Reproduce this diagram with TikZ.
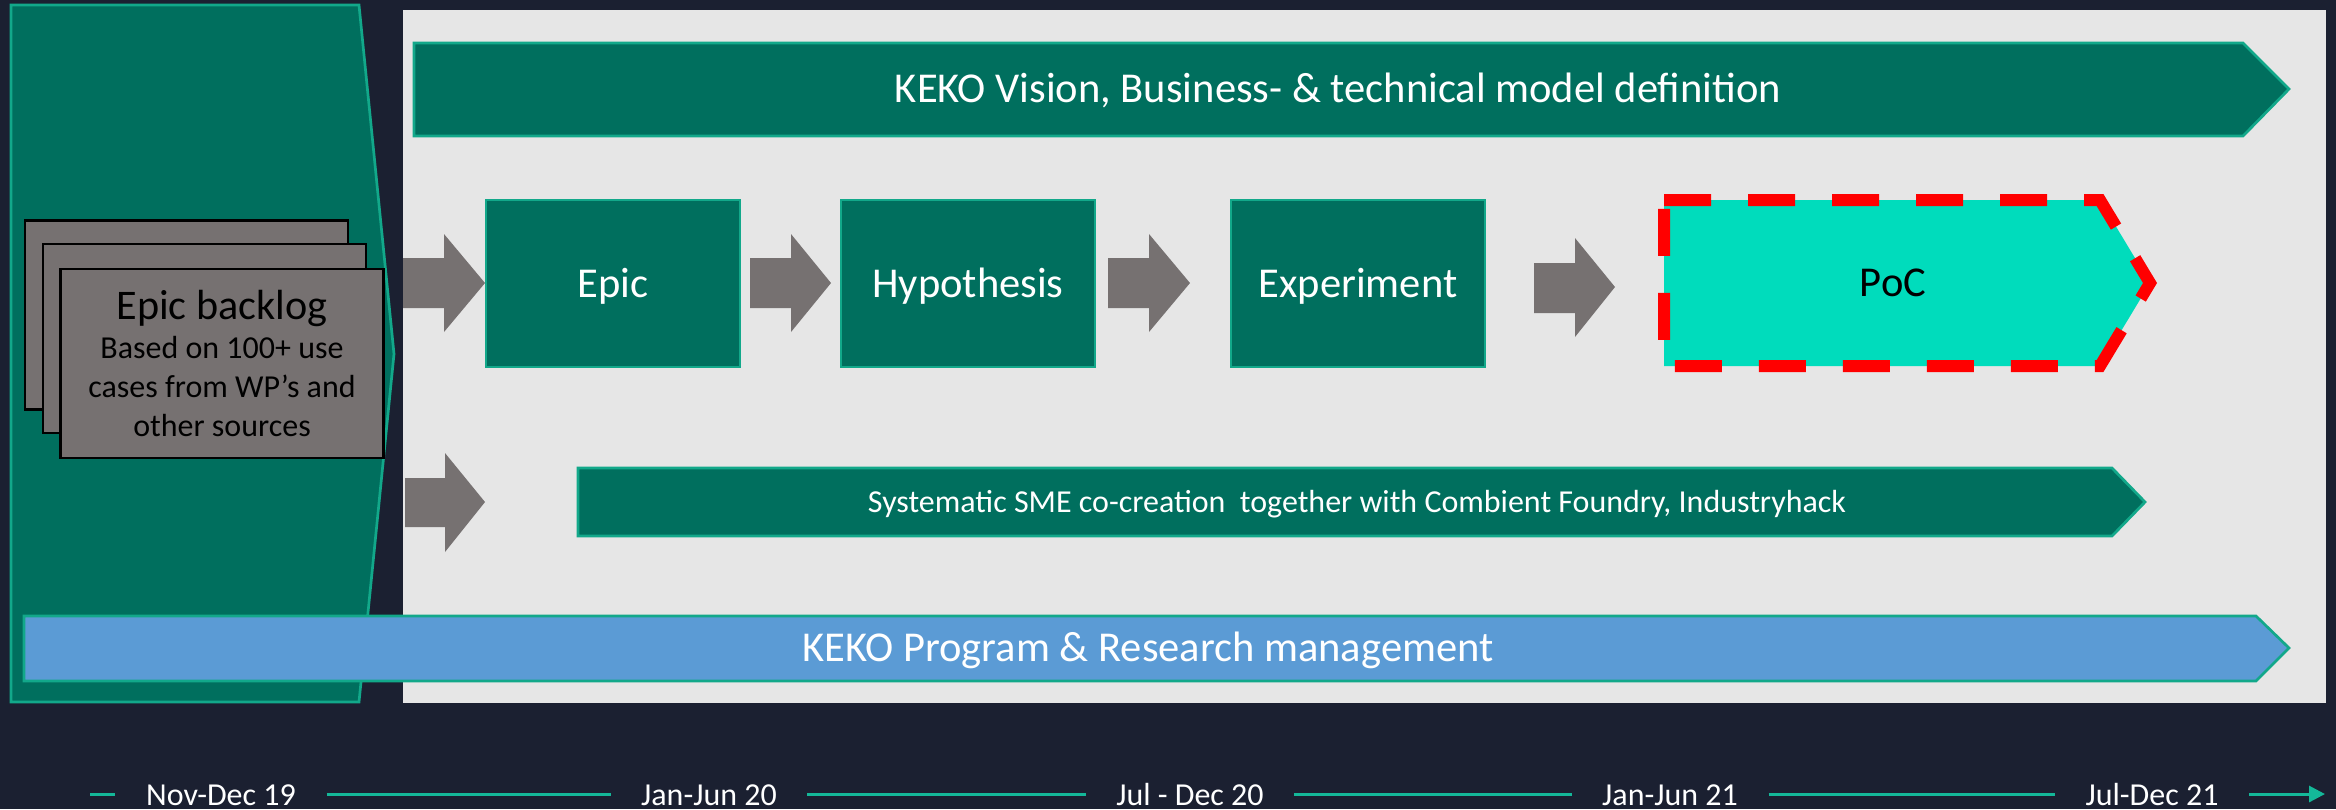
\documentclass[tikz,border=0pt]{standalone}
\usepackage{fontspec}
\setmainfont{Carlito}
\usetikzlibrary{arrows.meta}

\definecolor{navy}{HTML}{1B2031}
\definecolor{kekogreen}{HTML}{006F5E}
\definecolor{kekoline}{HTML}{12A88A}
\definecolor{panelgray}{HTML}{E6E6E6}
\definecolor{arrowgray}{HTML}{767171}
\definecolor{pocfill}{HTML}{00DCBC}
\definecolor{kekoblue}{HTML}{5B9BD5}
\definecolor{timeteal}{HTML}{14B899}

\tikzset{
  greenshape/.style={fill=kekogreen, draw=kekoline, line width=0.27mm},
  bluebar/.style={fill=kekoblue, draw=kekoline, line width=0.27mm},
  pocshape/.style={fill=pocfill, draw=red, line width=1.2mm, dash pattern=on 4.7mm off 3.7mm},
  fatarrow/.style={fill=arrowgray},
  barlabel/.style={text=white, font=\fontsize{12.1}{14}\selectfont, text height=9.95pt, text depth=2.15pt},
  stepbox/.style={greenshape, barlabel, minimum width=25.4mm, minimum height=16.7mm},
  smelabel/.style={text=white, font=\fontsize{9.1}{11}\selectfont, text height=7.4pt, text depth=1.7pt},
  cardbox/.style={fill=arrowgray, draw=black, line width=0.25mm, minimum width=32.3mm, minimum height=18.9mm},
  datelabel/.style={text=white, font=\fontsize{9.1}{10}\selectfont, inner xsep=3mm, text height=2.2mm, text depth=0mm},
  timelink/.style={draw=timeteal, line width=0.3mm},
}

\begin{document}
\begin{tikzpicture}[x=0.1mm, y=-0.1mm]
            \useasboundingbox (0,0) rectangle (2336,809);
            % Drawing background
            \fill [navy] (0,0) rectangle (2336,809);%

            % Drawing chevron backlog
            \draw [greenshape] (11,5) -- (359,5) -- (394,354) -- (359,702) -- (11,702) -- cycle;%

            % Drawing panel
            \fill [panelgray] (403,10) rectangle (2326,703);%

            % Drawing bar vision
            \draw [greenshape] (414,43) -- (2243,43) -- (2289,89) -- (2243,136) -- (414,136) -- cycle;%
            \node [barlabel] (vision) at (1338,89) {KEKO Vision, Business- \& technical model definition};%

            % Drawing cards backlog
            \node [cardbox] (card1) at (186.5,315) {};%
            \node [cardbox] (card2) at (204.5,338.5) {};%
            \node [cardbox, align=center, font=\fontsize{9.1}{11.1}\selectfont] (backlog) at (222,363.5)
              {{\fontsize{12}{11.1}\selectfont Epic backlog}\\Based on 100+ use\\cases from WP’s and\\other sources};%

            % Drawing arrow into epic
            \fill [fatarrow] (403,258) -- (444,258) -- (444,234) -- (485,283) -- (444,332) -- (444,308) -- (403,308) -- cycle;%

            % Drawing box epic
            \node [stepbox] (epic) at (613,283.5) {Epic};%

            % Drawing arrow epic hypothesis
            \fill [fatarrow] (750,258) -- (791,258) -- (791,234) -- (831,283) -- (791,332) -- (791,308) -- (750,308) -- cycle;%

            % Drawing box hypothesis
            \node [stepbox] (hypothesis) at (968,283.5) {Hypothesis};%

            % Drawing arrow hypothesis experiment
            \fill [fatarrow] (1108,258) -- (1149,258) -- (1149,234) -- (1190,283) -- (1149,332) -- (1149,308) -- (1108,308) -- cycle;%

            % Drawing box experiment
            \node [stepbox] (experiment) at (1358,283.5) {Experiment};%

            % Drawing arrow experiment poc
            \fill [fatarrow] (1534,263) -- (1575,263) -- (1575,238) -- (1615,287) -- (1575,337) -- (1575,313) -- (1534,313) -- cycle;%

            % Drawing pentagon poc
            \draw [pocshape] (1664,200) -- (2100,200) -- (2150,283) -- (2100,366) -- (1664,366) -- cycle;%
            \node [barlabel, text=black] (poc) at (1893,283) {PoC};%

            % Drawing arrow into sme
            \fill [fatarrow] (405,478) -- (445,478) -- (445,453) -- (485,502) -- (445,552) -- (445,527) -- (405,527) -- cycle;%

            % Drawing bar sme
            \draw [greenshape] (578,468) -- (2112,468) -- (2145,502) -- (2112,536) -- (578,536) -- cycle;%
            \node [smelabel] (sme) at (1357,502) {Systematic SME co-creation\ \ together with Combient Foundry, Industryhack};%

            % Drawing bar program
            \draw [bluebar] (24,616) -- (2256,616) -- (2289,648) -- (2256,681) -- (24,681) -- cycle;%
            \node [barlabel] (program) at (1148,648) {KEKO Program \& Research management};%

            % Marking timeline
            \coordinate (tstart) at (90,794);%
            \node [datelabel] (nov19) at (221,794) {Nov-Dec 19};%
            \node [datelabel] (jan20) at (709,794) {Jan-Jun 20};%
            \node [datelabel] (jul20) at (1190,794) {Jul - Dec 20};%
            \node [datelabel] (jan21) at (1670,794) {Jan-Jun 21};%
            \node [datelabel] (jul21) at (2152,794) {Jul-Dec 21};%
            \coordinate (tend) at (2325,794);%

            % Drawing timeline segments
            \draw [timelink] (tstart) -- (nov19);%
            \draw [timelink] (nov19) -- (jan20);%
            \draw [timelink] (jan20) -- (jul20);%
            \draw [timelink] (jul20) -- (jan21);%
            \draw [timelink] (jan21) -- (jul21);%
            \draw [timelink, -{Triangle[length=1.6mm, width=1.6mm]}] (jul21) -- (tend);%
\end{tikzpicture}
\end{document}
